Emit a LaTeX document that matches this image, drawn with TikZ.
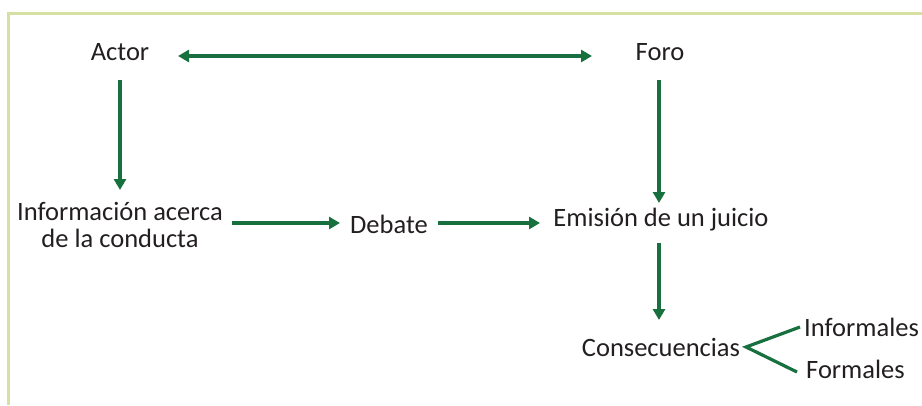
\documentclass[tikz,border=0pt]{standalone}
\usepackage{fontspec}
\setmainfont{Carlito}
\usetikzlibrary{arrows.meta}
\definecolor{frame}{HTML}{D6E0A2}
\definecolor{arr}{HTML}{17703E}
\definecolor{txt}{HTML}{231F20}
\begin{document}
\begin{tikzpicture}[x=1pt,y=-1pt,
  lbl/.style={inner sep=0pt, font=\fontsize{26.5}{27}\selectfont, text=txt},
  conn/.style={draw=arr, line width=3.2pt, -{Triangle[length=11pt,width=12pt]}},
  fork/.style={draw=arr, line width=3.2pt}]
\useasboundingbox (0,0) rectangle (922,405);
\draw[frame, line width=3pt] (8,405) -- (8,13) -- (922,13);
\node[lbl] (actor) at (120,52) {Actor};
\node[lbl] (foro) at (660,52) {Foro};
\node[lbl, align=center] (info) at (120,225) {Información acerca\\de la conducta};
\node[lbl] (debate) at (389,224) {Debate};
\node[lbl] (emis) at (661,220) {Emisión de un juicio};
\node[lbl] (cons) at (661,347) {Consecuencias};
\node[lbl, anchor=west] (inf) at (804,327) {Informales};
\node[lbl, anchor=west] (form) at (806,369) {Formales};
\coordinate (a1) at (178,56);
\coordinate (a2) at (592,56);
\draw[conn, {Triangle[length=11pt,width=12pt]}-{Triangle[length=11pt,width=12pt]}] (a1) -- (a2);
\draw[conn] (120,80) coordinate (s1) -- (120,190) coordinate (e1);
\draw[conn] (659,80) coordinate (s2) -- (659,203) coordinate (e2);
\draw[conn] (232,223) coordinate (s3) -- (340,223) coordinate (e3);
\draw[conn] (438,223) coordinate (s4) -- (540,223) coordinate (e4);
\draw[conn] (659,243) coordinate (s5) -- (659,320) coordinate (e5);
\coordinate (fk) at (746,347);
\draw[fork] (800,327) -- (fk) -- (797,372);
\end{tikzpicture}
\end{document}
